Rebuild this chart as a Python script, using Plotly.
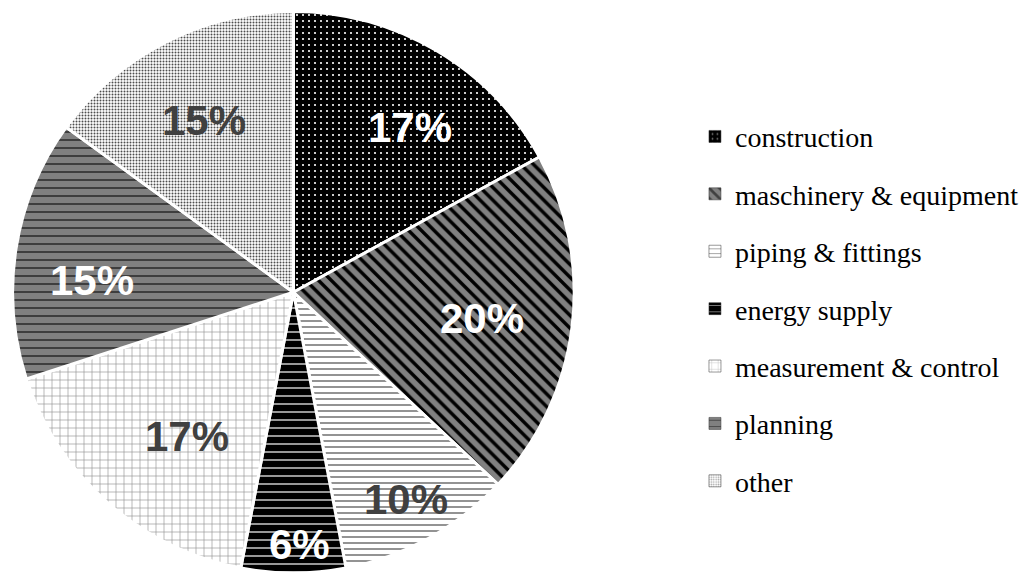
import math
import plotly.graph_objects as go

# Cost breakdown
categories = [
    "construction",
    "maschinery & equipment",
    "piping & fittings",
    "energy supply",
    "measurement & control",
    "planning",
    "other",
]
shares = [17, 20, 10, 6, 17, 15, 15]

# Hatch fills for each slice
pattern_shape = [".", "\\", "-", "-", "+", "-", "."]
pattern_bg = ["#000000", "#808080", "#ffffff", "#000000", "#ffffff", "#808080", "#ffffff"]
pattern_fg = ["#ffffff", "#000000", "#4a4a4a", "#ffffff", "#8c8c8c", "#000000", "#4d4d4d"]
pattern_size = [6, 9, 6, 8, 8, 8, 3]
pattern_solidity = [0.1, 0.38, 0.2, 0.15, 0.15, 0.13, 0.35]

# Percentage label styling: colour, distance from centre (fraction of radius)
# and a small angular nudge (degrees) off each slice's bisector
label_color = ["#ffffff", "#ffffff", "#404040", "#ffffff", "#404040", "#ffffff", "#404040"]
label_radius = [0.72, 0.68, 0.84, 0.90, 0.64, 0.72, 0.69]
label_nudge = [4.7, 0.8, 0.3, -1.4, -5.0, -5.6, -0.6]

W, H = 1024, 573
dom_x = [0.0117, 0.5625]
dom_y = [0.0, 0.98]

fig = go.Figure()

fig.add_trace(go.Pie(
    labels=categories,
    values=shares,
    sort=False,
    direction="clockwise",
    rotation=0,
    textinfo="none",
    hoverinfo="label+percent",
    showlegend=False,
    domain=dict(x=dom_x, y=dom_y),
    marker=dict(
        colors=pattern_bg,
        line=dict(color="#ffffff", width=3),
        pattern=dict(
            shape=pattern_shape,
            bgcolor=pattern_bg,
            fgcolor=pattern_fg,
            size=pattern_size,
            solidity=pattern_solidity,
        ),
    ),
))

# Legend entries with matching hatch swatches
for i, name in enumerate(categories):
    fig.add_trace(go.Bar(
        x=[0], y=[0],
        name=name,
        legendgroup=name,
        showlegend=True,
        hoverinfo="skip",
        marker=dict(
            color=pattern_bg[i],
            line=dict(width=0.5, color="#333333"),
            pattern=dict(
                shape=pattern_shape[i],
                bgcolor=pattern_bg[i],
                fgcolor=pattern_fg[i],
                size=pattern_size[i],
                solidity=pattern_solidity[i],
            ),
        ),
    ))

# Percent labels placed near each slice's bisector
cx = (dom_x[0] + dom_x[1]) / 2 * W
cy = (1 - (dom_y[0] + dom_y[1]) / 2) * H
R = min((dom_x[1] - dom_x[0]) * W, (dom_y[1] - dom_y[0]) * H) / 2
total = sum(shares)
start = 0.0
annotations = []
for i, v in enumerate(shares):
    mid = (start + v / 2) / total * 2 * math.pi + math.radians(label_nudge[i])
    start += v
    px = cx + label_radius[i] * R * math.sin(mid)
    py = cy - label_radius[i] * R * math.cos(mid)
    annotations.append(dict(
        x=px / W, y=1 - py / H, xref="paper", yref="paper",
        text=f"{round(v / total * 100)}%",
        showarrow=False,
        xanchor="center", yanchor="middle",
        font=dict(family="Liberation Sans, Arial, sans-serif", size=42,
                  color=label_color[i], weight="bold"),
    ))

fig.update_layout(
    width=W, height=H,
    margin=dict(l=0, r=0, t=0, b=0),
    paper_bgcolor="#ffffff",
    plot_bgcolor="rgba(0,0,0,0)",
    annotations=annotations,
    xaxis=dict(visible=False, domain=[0.995, 1], range=[5, 6]),
    yaxis=dict(visible=False, domain=[0.995, 1], range=[5, 6]),
    legend=dict(
        x=0.68, y=0.805, xanchor="left", yanchor="top",
        font=dict(family="Liberation Serif, Times New Roman, serif", size=28, color="#000000"),
        tracegroupgap=18,
        itemwidth=30,
        bgcolor="rgba(0,0,0,0)",
    ),
)

fig.write_html("out.html")
